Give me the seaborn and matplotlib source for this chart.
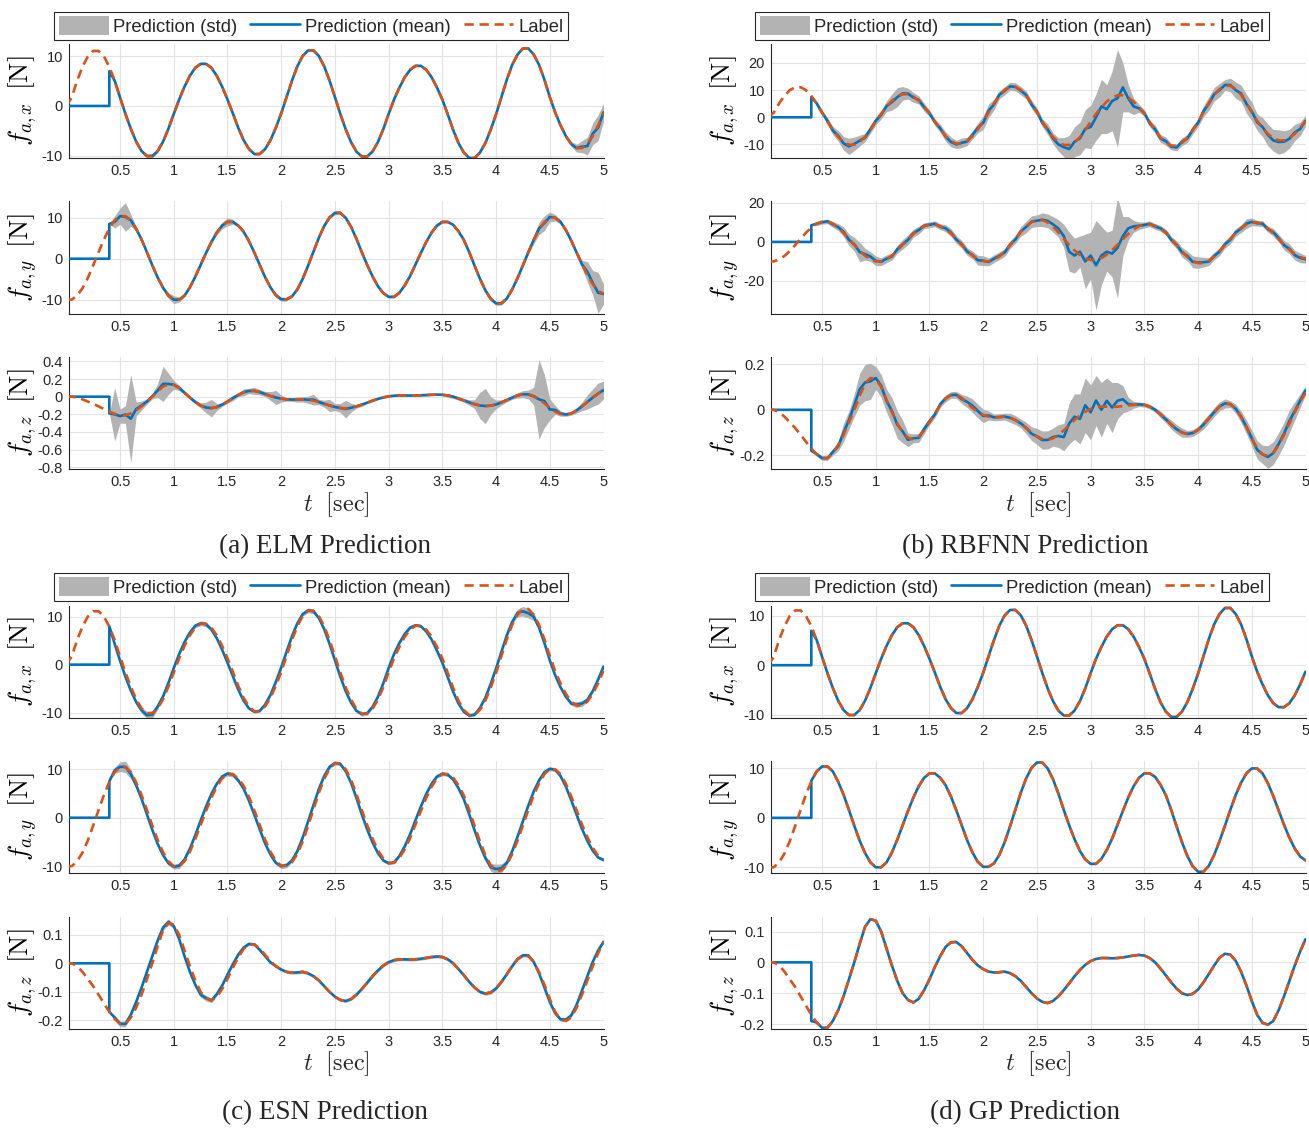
import numpy as np
import matplotlib
matplotlib.use('Agg')
import matplotlib.pyplot as plt
from matplotlib.lines import Line2D
from matplotlib.patches import Patch
from matplotlib.ticker import FuncFormatter
import seaborn as sns


# ---------------------------------------------------------------- data
# sample grid, 0.05 s; every array below has one value per sample,
# written 10 per row (0.00-0.45, 0.50-0.95, ... 4.50-4.95, 5.00)
T = np.round(np.arange(0, 5.0001, 0.05), 2)
T_SWITCH = 0.40  # prediction is 0 before this time

LABEL_X = [
    0.0, 1.7, 5.1, 7.9, 10.0, 11.1, 11.1, 10.0, 7.9, 5.1,
    1.7, -1.6, -4.6, -7.2, -9.1, -10.1, -10.1, -9.1, -7.2, -4.6,
    -1.6, 1.3, 3.9, 6.1, 7.7, 8.5, 8.5, 7.7, 6.1, 3.9,
    1.3, -1.5, -4.4, -6.9, -8.7, -9.7, -9.7, -8.7, -6.9, -4.4,
    -1.5, 1.8, 5.1, 8.0, 10.1, 11.2, 11.2, 10.1, 8.0, 5.1,
    1.8, -1.6, -4.7, -7.3, -9.2, -10.2, -10.2, -9.2, -7.3, -4.7,
    -1.6, 1.3, 3.7, 5.8, 7.3, 8.1, 8.1, 7.3, 5.8, 3.7,
    1.3, -1.7, -4.8, -7.5, -9.4, -10.5, -10.5, -9.4, -7.5, -4.8,
    -1.7, 1.8, 5.3, 8.3, 10.4, 11.6, 11.6, 10.4, 8.3, 5.3,
    1.8, -1.3, -3.9, -6.1, -7.7, -8.5, -8.5, -7.7, -6.1, -3.9,
    -1.3]
LABEL_Y = [
    -10.0, -10.0, -9.0, -7.2, -4.7, -1.6, 1.6, 4.7, 7.4, 9.4,
    10.4, 10.4, 9.4, 7.3, 4.7, 1.6, -1.6, -4.6, -7.1, -9.0,
    -10.0, -10.0, -9.0, -7.0, -4.4, -1.5, 1.4, 4.1, 6.4, 8.1,
    9.0, 9.0, 8.1, 6.6, 4.3, 1.5, -1.5, -4.5, -7.0, -8.9,
    -9.9, -9.9, -9.2, -7.5, -4.9, -1.7, 1.7, 5.1, 8.0, 10.1,
    11.2, 11.2, 10.0, 7.8, 4.9, 1.6, -1.5, -4.3, -6.7, -8.4,
    -9.3, -9.3, -8.3, -6.5, -4.2, -1.4, 1.4, 4.1, 6.4, 8.1,
    9.0, 9.0, 8.3, 6.7, 4.6, 1.6, -1.7, -4.9, -7.7, -9.8,
    -10.9, -10.9, -9.7, -7.5, -4.7, -1.6, 1.6, 4.6, 7.1, 9.0,
    10.0, 10.0, 9.0, 7.0, 4.4, 1.5, -1.4, -4.0, -6.2, -7.8,
    -8.6]
LABEL_Z = [
    0.000, 0.000, -0.010, -0.030, -0.055, -0.080, -0.110, -0.140, -0.170, -0.195,
    -0.212, -0.212, -0.190, -0.155, -0.110, -0.055, 0.000, 0.060, 0.115, 0.140,
    0.135, 0.100, 0.045, -0.010, -0.060, -0.100, -0.122, -0.130, -0.118, -0.090,
    -0.055, -0.015, 0.020, 0.050, 0.065, 0.066, 0.052, 0.030, 0.008, -0.010,
    -0.022, -0.030, -0.033, -0.032, -0.030, -0.035, -0.045, -0.060, -0.080, -0.100,
    -0.117, -0.128, -0.132, -0.125, -0.110, -0.090, -0.068, -0.045, -0.025, -0.008,
    0.004, 0.011, 0.014, 0.014, 0.013, 0.014, 0.016, 0.019, 0.022, 0.024,
    0.022, 0.014, 0.000, -0.020, -0.042, -0.065, -0.085, -0.100, -0.106, -0.102,
    -0.088, -0.065, -0.038, -0.010, 0.015, 0.028, 0.025, 0.005, -0.030, -0.075,
    -0.125, -0.170, -0.196, -0.202, -0.190, -0.155, -0.110, -0.060, -0.010, 0.035,
    0.075]

# ELM
ELM_JUMP = [7.0, 8.5, -0.19]
ELM_STD_X = [
    0, 0, 0, 0, 0, 0, 0, 0, 0, 0.3,
    0.2, 0.15, 0.15, 0.2, 0.3, 0.4, 0.4, 0.3, 0.2, 0.15,
    0.1, 0.1, 0.1, 0.1, 0.15, 0.2, 0.15, 0.1, 0.1, 0.1,
    0.1, 0.1, 0.1, 0.15, 0.2, 0.2, 0.15, 0.1, 0.1, 0.1,
    0.1, 0.1, 0.1, 0.1, 0.15, 0.2, 0.2, 0.15, 0.1, 0.1,
    0.1, 0.1, 0.1, 0.15, 0.2, 0.25, 0.2, 0.15, 0.1, 0.1,
    0.1, 0.1, 0.1, 0.1, 0.15, 0.2, 0.15, 0.1, 0.1, 0.1,
    0.1, 0.1, 0.1, 0.15, 0.2, 0.3, 0.3, 0.2, 0.1, 0.1,
    0.1, 0.1, 0.1, 0.1, 0.15, 0.2, 0.2, 0.15, 0.1, 0.1,
    0.1, 0.15, 0.2, 0.3, 0.5, 0.8, 1.2, 1.8, 2.2, 2.6,
    1.8]
ELM_DEV_X = [
    0, 0, 0, 0, 0, 0, 0, 0, 0, 0,
    0, 0, 0, 0, 0, 0, 0, 0, 0, 0,
    0, 0, 0, 0, 0, 0, 0, 0, 0, 0,
    0, 0, 0, 0, 0, 0, 0, 0, 0, 0,
    0, 0, 0, 0, 0, 0, 0, 0, 0, 0,
    0, 0, 0, 0, 0, 0, 0, 0, 0, 0,
    0, 0, 0, 0, 0, 0, 0, 0, 0, 0,
    0, 0, 0, 0, 0, 0, 0, 0, 0, 0,
    0, 0, 0, 0, 0, 0, 0, 0, 0, 0,
    0, 0, 0, 0, 0, 0, 0.3, -0.4, 0.5, -0.5,
    0]
ELM_STD_Y = [
    0, 0, 0, 0, 0, 0, 0, 0, 0, 1.5,
    2.0, 3.5, 1.5, 0.5, 0.3, 0.2, 0.3, 0.4, 0.5, 0.7,
    1.0, 0.6, 0.3, 0.2, 0.2, 0.3, 0.3, 0.4, 0.6, 0.8,
    1.0, 0.6, 0.3, 0.2, 0.2, 0.2, 0.2, 0.3, 0.4, 0.5,
    0.5, 0.4, 0.3, 0.2, 0.2, 0.2, 0.2, 0.3, 0.3, 0.4,
    0.5, 0.4, 0.3, 0.2, 0.2, 0.2, 0.2, 0.2, 0.3, 0.3,
    0.3, 0.3, 0.2, 0.2, 0.2, 0.2, 0.2, 0.2, 0.3, 0.3,
    0.3, 0.3, 0.2, 0.2, 0.2, 0.2, 0.2, 0.3, 0.4, 0.5,
    0.5, 0.4, 0.3, 0.2, 0.3, 0.4, 0.6, 1.0, 1.5, 1.8,
    1.2, 0.8, 0.5, 0.4, 0.4, 0.5, 1.0, 2.5, 3.0, 5.0,
    2.5]
ELM_DEV_Y = [
    0, 0, 0, 0, 0, 0, 0, 0, 0, -0.4,
    0, -0.2, 0, 0, 0, 0, 0, 0, 0, 0,
    0, 0, 0, 0, 0, 0, 0, 0, 0, 0,
    0, 0, 0, 0, 0, 0, 0, 0, 0, 0,
    0, 0, 0, 0, 0, 0, 0, 0, 0, 0,
    0, 0, 0, 0, 0, 0, 0, 0, 0, 0,
    0, 0, 0, 0, 0, 0, 0, 0, 0, 0,
    0, 0, 0, 0, 0, 0, 0, 0, 0, 0,
    0, 0, 0, 0, 0, 0, 0, 0, 0.3, -0.3,
    0.2, 0, 0, 0, 0, 0, 0, 0.8, 0.3, -0.5,
    0]
ELM_STD_Z = [
    0, 0, 0, 0, 0, 0, 0, 0, 0, 0.30,
    0.08, 0.10, 0.50, 0.08, 0.05, 0.03, 0.03, 0.08, 0.20, 0.12,
    0.05, 0.03, 0.02, 0.02, 0.02, 0.03, 0.06, 0.10, 0.04, 0.02,
    0.02, 0.03, 0.02, 0.04, 0.03, 0.04, 0.03, 0.03, 0.05, 0.08,
    0.04, 0.02, 0.02, 0.03, 0.03, 0.04, 0.06, 0.03, 0.04, 0.07,
    0.04, 0.05, 0.10, 0.05, 0.02, 0.02, 0.01, 0.01, 0.01, 0.01,
    0.01, 0.01, 0.01, 0.01, 0.01, 0.01, 0.01, 0.01, 0.01, 0.01,
    0.01, 0.02, 0.02, 0.02, 0.02, 0.03, 0.05, 0.15, 0.20, 0.10,
    0.05, 0.03, 0.02, 0.02, 0.03, 0.04, 0.05, 0.10, 0.45, 0.30,
    0.12, 0.05, 0.03, 0.02, 0.02, 0.03, 0.05, 0.08, 0.10, 0.12,
    0.10]
ELM_DEV_Z = [
    0, 0, 0, 0, 0, 0, 0, 0, 0, -0.005,
    -0.008, 0.01, -0.06, 0.015, 0.01, 0, 0.005, 0.01, 0.03, 0.005,
    0, 0, 0, 0, 0, 0, 0, 0, 0, 0,
    0, 0, 0, 0, 0, 0, 0, 0, 0, 0,
    0, 0, 0, 0, 0, 0, 0.012, 0, 0, 0,
    0, 0, -0.008, 0, 0, 0, 0, 0, 0, 0,
    0, 0, 0, 0, 0, 0, 0, 0, 0, 0,
    0, 0, 0, 0, 0, 0, 0, 0, 0, 0,
    0, 0, 0, 0, 0, 0, 0, 0, 0, 0.025,
    -0.02, 0.02, 0.005, 0, 0, 0, 0, 0, 0, 0,
    0]

# RBFNN
RBF_JUMP = [7.5, 8.5, -0.18]
RBF_STD_X = [
    0, 0, 0, 0, 0, 0, 0, 0, 0, 0.8,
    1.0, 1.2, 1.5, 2.0, 2.5, 3.0, 2.5, 2.0, 1.5, 1.5,
    1.5, 1.5, 2.0, 3.0, 3.5, 2.5, 2.0, 1.8, 1.5, 1.5,
    1.2, 1.2, 1.5, 1.8, 1.8, 1.5, 1.8, 1.5, 1.5, 1.8,
    2.5, 2.5, 2.0, 1.5, 1.5, 1.5, 1.5, 1.5, 1.5, 1.5,
    1.5, 1.5, 2.0, 2.0, 2.5, 3.5, 5.0, 5.5, 6.0, 7.0,
    8.0, 8.5, 10.0, 9.0, 11.0, 18.0, 9.0, 5.0, 3.0, 1.5,
    1.2, 1.2, 1.5, 1.5, 1.5, 1.2, 1.2, 1.5, 1.5, 1.5,
    1.5, 2.0, 2.5, 2.5, 2.5, 2.0, 2.5, 3.0, 3.0, 3.5,
    3.5, 3.0, 3.5, 4.0, 4.0, 4.5, 4.0, 3.5, 3.0, 2.5,
    2.0]
RBF_DEV_X = [
    0, 0, 0, 0, 0, 0, 0, 0, 0, 0,
    0, 0.3, -0.3, 0.4, -0.5, -0.6, 0.3, 0.5, -0.3, 0.2,
    0.3, -0.4, 0.2, -0.5, -0.3, 0.3, 0.2, -0.4, 0.3, -0.2,
    0.2, -0.3, 0.3, -0.2, -0.4, -0.3, 0.3, -0.2, 0.4, 0.5,
    -0.5, 0.6, -0.4, 0.3, -0.3, 0.2, 0.0, -0.3, 0.2, -0.4,
    0.3, -0.4, 0.3, -0.5, -0.8, -0.8, -1.5, 0.2, -0.5, 0.5,
    -2.0, -1.3, 0.3, -2.8, -1.3, -1.1, 2.9, -0.3, -1.8, -0.4,
    0.3, -0.6, 0.4, -0.3, 0.6, -0.3, -0.6, 0.4, -0.3, 0.2,
    -0.3, 0.4, -0.3, 0.2, -0.4, 0.3, 0.3, -0.4, 0.5, -0.3,
    0.4, -0.5, 0.3, -0.4, -0.8, -0.6, -0.5, -0.2, 0.5, -0.4,
    0.0]
RBF_STD_Y = [
    0, 0, 0, 0, 0, 0, 0, 0, 0, 1.0,
    1.0, 1.2, 1.5, 1.8, 2.5, 3.0, 3.5, 5.0, 3.0, 2.5,
    2.5, 2.0, 2.0, 1.8, 2.0, 2.5, 2.5, 2.0, 2.0, 1.5,
    1.5, 1.5, 1.5, 1.8, 2.0, 2.0, 2.0, 2.0, 2.0, 2.5,
    2.5, 2.0, 2.0, 2.0, 2.0, 2.0, 2.0, 2.5, 3.0, 3.0,
    3.0, 3.5, 3.5, 4.0, 4.5, 6.0, 10.0, 9.0, 8.0, 14.0,
    12.0, 23.0, 15.0, 10.0, 12.0, 26.0, 10.0, 6.0, 3.0, 2.0,
    1.5, 1.5, 1.5, 1.5, 1.5, 1.8, 2.0, 2.5, 2.5, 3.0,
    3.0, 2.5, 2.0, 2.0, 2.0, 2.0, 2.0, 2.0, 2.0, 2.5,
    2.0, 1.5, 1.5, 1.5, 2.0, 2.0, 2.5, 2.5, 2.5, 2.5,
    2.0]
RBF_DEV_Y = [
    0, 0, 0, 0, 0, 0, 0, 0, 0, 0,
    -0.3, 0.2, -0.4, 0.3, 0.5, -0.5, 0.4, -0.6, 0.8, 1.5,
    0.3, -0.2, 0.4, -0.5, 0.6, 0.3, -0.3, 0.4, -0.3, 0.2,
    -0.2, 0.3, -0.3, 0.4, 0.5, -0.3, 0.3, -0.4, 0.3, -0.5,
    0.3, -0.4, 0.6, 0.4, -0.5, 0.3, -0.4, 0.3, -0.3, 0.3,
    -0.3, 0.2, 0.8, 1.2, 2.0, 1.4, -3.5, -2.7, 1.7, -1.6,
    2.3, -2.7, 1.3, 1.5, -1.8, -1.6, 1.6, 2.9, 1.6, 0.2,
    -0.3, 0.3, -0.4, 0.3, 0.4, -0.5, 0.3, -0.4, 0.5, -0.4,
    0.3, 0.5, -0.4, 0.3, -0.3, 0.4, -0.5, 0.3, -0.3, 0.4,
    0.3, -0.4, 0.4, -0.5, 0.6, 0.4, -0.3, 0.5, -0.6, -0.4,
    -0.3]
RBF_STD_Z = [
    0, 0, 0, 0, 0, 0, 0, 0, 0, 0.01,
    0.01, 0.01, 0.015, 0.02, 0.04, 0.04, 0.05, 0.07, 0.08, 0.08,
    0.05, 0.05, 0.05, 0.06, 0.06, 0.05, 0.03, 0.02, 0.02, 0.02,
    0.015, 0.015, 0.015, 0.015, 0.015, 0.015, 0.02, 0.025, 0.03, 0.03,
    0.03, 0.02, 0.015, 0.015, 0.015, 0.02, 0.02, 0.02, 0.025, 0.03,
    0.035, 0.04, 0.04, 0.04, 0.05, 0.06, 0.09, 0.10, 0.11, 0.12,
    0.12, 0.11, 0.12, 0.10, 0.11, 0.08, 0.06, 0.03, 0.015, 0.01,
    0.01, 0.01, 0.01, 0.015, 0.015, 0.02, 0.02, 0.02, 0.015, 0.015,
    0.015, 0.02, 0.02, 0.02, 0.02, 0.02, 0.015, 0.02, 0.025, 0.03,
    0.035, 0.04, 0.04, 0.05, 0.05, 0.05, 0.05, 0.05, 0.04, 0.03,
    0.02]
RBF_DEV_Z = [
    0, 0, 0, 0, 0, 0, 0, 0, 0, 0,
    0, 0, 0.005, -0.005, 0.01, 0.01, 0.02, 0.03, 0.005, -0.015,
    0.005, 0.005, -0.005, 0.005, -0.005, 0.005, -0.01, 0.005, -0.005, 0.005,
    0.005, -0.005, 0.005, 0, 0, 0, -0.005, 0.005, 0.01, 0.005,
    -0.005, 0.005, 0, 0, 0, 0, 0, 0, 0, -0.005,
    0, -0.005, 0, 0.005, -0.005, -0.03, 0.008, 0.015, -0.015, 0.028,
    -0.015, 0.03, -0.014, 0.026, -0.003, 0.026, 0.03, 0.006, 0, 0,
    0, 0, 0, 0, 0, 0, 0, 0, 0, 0,
    0, 0, 0, 0, 0, 0, 0, 0, 0, 0,
    0, -0.005, 0, -0.005, 0, 0.005, 0.005, 0.01, 0.005, 0.005,
    0.01]

# ESN
ESN_JUMP = [8.0, 7.5, -0.17]
ESN_STD_X = [
    0, 0, 0, 0, 0, 0, 0, 0, 0, 0.4,
    0.4, 0.4, 0.4, 0.5, 0.6, 0.8, 0.8, 0.6, 0.4, 0.3,
    0.3, 0.3, 0.3, 0.3, 0.4, 0.5, 0.5, 0.4, 0.3, 0.3,
    0.3, 0.3, 0.3, 0.3, 0.3, 0.3, 0.3, 0.3, 0.3, 0.3,
    0.3, 0.3, 0.3, 0.3, 0.4, 0.5, 0.5, 0.4, 0.3, 0.3,
    0.3, 0.3, 0.3, 0.3, 0.3, 0.4, 0.4, 0.3, 0.3, 0.3,
    0.3, 0.3, 0.3, 0.3, 0.3, 0.3, 0.3, 0.3, 0.3, 0.3,
    0.3, 0.3, 0.3, 0.3, 0.3, 0.3, 0.3, 0.3, 0.3, 0.3,
    0.3, 0.3, 0.4, 0.5, 0.8, 1.0, 1.0, 0.8, 0.5, 0.3,
    0.3, 0.3, 0.3, 0.3, 0.4, 0.6, 0.6, 0.4, 0.3, 0.3,
    0.3]
ESN_DEV_X = [
    0, 0, 0, 0, 0, 0, 0, 0, 0, -0.8,
    -0.9, -0.9, -0.8, -0.6, -0.4, -0.4, -0.3, 0.4, 0.6, 0.8,
    0.9, 0.9, 0.8, 0.6, 0.4, 0.1, -0.1, -0.4, -0.6, -0.8,
    -0.9, -0.9, -0.8, -0.6, -0.4, -0.1, 0.1, 0.4, 0.6, 0.8,
    0.9, 0.9, 0.8, 0.6, 0.4, 0.1, -0.1, -0.4, -0.6, -0.8,
    -0.9, -0.9, -0.8, -0.6, -0.4, -0.1, 0.1, 0.4, 0.6, 0.8,
    0.9, 0.9, 0.8, 0.6, 0.4, 0.1, -0.1, -0.4, -0.6, -0.8,
    -0.9, -0.9, -0.8, -0.6, -0.4, -0.1, 0.1, 0.4, 0.6, 0.8,
    0.9, 0.9, 0.8, 0.6, 0.4, -0.5, -0.9, -0.4, -0.6, -0.8,
    -0.9, -0.9, -0.8, -0.6, -0.4, 0.2, 0.4, 0.4, 0.6, 0.8,
    0.9]
ESN_STD_Y = [
    0, 0, 0, 0, 0, 0, 0, 0, 0, 0.6,
    1.0, 1.2, 1.0, 0.6, 0.4, 0.3, 0.3, 0.3, 0.3, 0.4,
    0.5, 0.6, 0.4, 0.3, 0.3, 0.3, 0.3, 0.3, 0.3, 0.4,
    0.5, 0.5, 0.4, 0.3, 0.3, 0.3, 0.3, 0.3, 0.3, 0.4,
    0.5, 0.5, 0.4, 0.3, 0.3, 0.3, 0.3, 0.3, 0.3, 0.4,
    0.4, 0.4, 0.3, 0.3, 0.3, 0.3, 0.3, 0.3, 0.3, 0.3,
    0.3, 0.3, 0.3, 0.3, 0.3, 0.3, 0.3, 0.3, 0.3, 0.3,
    0.4, 0.4, 0.3, 0.3, 0.3, 0.3, 0.3, 0.4, 0.6, 0.8,
    1.0, 0.9, 0.6, 0.4, 0.3, 0.3, 0.3, 0.3, 0.3, 0.4,
    0.4, 0.4, 0.3, 0.3, 0.3, 0.3, 0.3, 0.3, 0.3, 0.3,
    0.3]
ESN_DEV_Y = [
    0, 0, 0, 0, 0, 0, 0, 0, 0, 0.4,
    0.1, 0.1, -0.4, -0.6, -0.8, -0.9, -0.9, -0.8, -0.6, -0.4,
    -0.1, 0.1, 0.4, 0.6, 0.8, 0.9, 0.9, 0.8, 0.6, 0.4,
    0.1, -0.1, -0.4, -0.6, -0.8, -0.9, -0.9, -0.8, -0.6, -0.4,
    -0.1, 0.1, 0.4, 0.6, 0.8, 0.9, 0.9, 0.8, 0.6, 0.4,
    0.1, -0.1, -0.4, -0.6, -0.8, -0.9, -0.9, -0.8, -0.6, -0.4,
    -0.1, 0.1, 0.4, 0.6, 0.8, 0.9, 0.9, 0.8, 0.6, 0.4,
    0.1, -0.1, -0.4, -0.6, -0.8, -0.9, -0.9, -0.8, -0.6, -0.4,
    0.3, 0.5, 0.4, 0.6, 0.8, 0.9, 0.9, 0.8, 0.6, 0.4,
    0.1, -0.1, -0.4, -0.6, -0.8, -0.9, -0.9, -0.8, -0.6, -0.4,
    -0.1]
ESN_STD_Z = [
    0, 0, 0, 0, 0, 0, 0, 0, 0, 0.008,
    0.010, 0.010, 0.008, 0.006, 0.006, 0.006, 0.006, 0.008, 0.010, 0.010,
    0.008, 0.006, 0.006, 0.006, 0.006, 0.008, 0.010, 0.008, 0.006, 0.005,
    0.005, 0.005, 0.005, 0.005, 0.005, 0.005, 0.005, 0.005, 0.005, 0.005,
    0.005, 0.005, 0.005, 0.005, 0.005, 0.005, 0.005, 0.005, 0.005, 0.005,
    0.005, 0.005, 0.005, 0.005, 0.005, 0.005, 0.005, 0.005, 0.005, 0.005,
    0.005, 0.005, 0.005, 0.005, 0.005, 0.005, 0.005, 0.005, 0.005, 0.005,
    0.005, 0.005, 0.005, 0.005, 0.005, 0.005, 0.005, 0.005, 0.006, 0.006,
    0.005, 0.005, 0.005, 0.005, 0.005, 0.006, 0.006, 0.005, 0.005, 0.005,
    0.005, 0.006, 0.007, 0.007, 0.007, 0.006, 0.005, 0.005, 0.005, 0.005,
    0.005]
ESN_DEV_Z = [
    0, 0, 0, 0, 0, 0, 0, 0, 0, 0.005,
    0.0, 0.0, 0.01, 0.02, 0.025, 0.025, 0.025, 0.02, 0.01, 0.005,
    -0.005, -0.015, -0.02, -0.02, -0.015, -0.01, 0.0, 0.0, 0.01, 0.012,
    0.015, 0.012, 0.01, 0.005, 0.003, 0.0, -0.005, -0.005, -0.005, 0.0,
    0, 0, 0, 0, 0, 0, 0, 0, 0, 0,
    0, 0, 0, 0, 0, 0, 0, 0, 0, 0,
    0, 0, 0, 0, 0, 0, 0, 0, 0, 0,
    0, 0, 0, 0, 0, 0, 0, 0, 0, 0,
    0, 0, 0, 0, 0, 0, 0.003, 0, -0.005, -0.01,
    -0.01, -0.005, 0.0, 0.005, 0.008, 0.01, 0.015, 0.015, 0.015, 0.01,
    0.0]

# GP: the spread is too small to see and the mean sits on the label
GP_JUMP = [7.0, 7.5, -0.19]
GP_STD = np.zeros(len(T))
GP_DEV = np.zeros(len(T))

CAPTIONS = ["(a) ELM Prediction", "(b) RBFNN Prediction",
            "(c) ESN Prediction", "(d) GP Prediction"]
YLABELS = [r'$f_{a,x}\ \,[\mathrm{N}]$', r'$f_{a,y}\ \,[\mathrm{N}]$',
           r'$f_{a,z}\ \,[\mathrm{N}]$']
YLIMS = [
    [(-10.5, 12.5), (-13.5, 14.1), (-0.82, 0.45)],
    [(-15, 27), (-37, 21), (-0.26, 0.232)],
    [(-11.1, 12.2), (-11.4, 11.7), (-0.23, 0.162)],
    [(-10.7, 12.0), (-11.15, 11.5), (-0.216, 0.147)],
]
YTICKS = [
    [[-10, 0, 10], [-10, 0, 10], [-0.8, -0.6, -0.4, -0.2, 0, 0.2, 0.4]],
    [[-10, 0, 10, 20], [-20, 0, 20], [-0.2, 0, 0.2]],
    [[-10, 0, 10], [-10, 0, 10], [-0.2, -0.1, 0, 0.1]],
    [[-10, 0, 10], [-10, 0, 10], [-0.2, -0.1, 0, 0.1]],
]
XTICKS = [0.5, 1, 1.5, 2, 2.5, 3, 3.5, 4, 4.5, 5]

MODELS = [
    (ELM_JUMP, [ELM_STD_X, ELM_STD_Y, ELM_STD_Z], [ELM_DEV_X, ELM_DEV_Y, ELM_DEV_Z]),
    (RBF_JUMP, [RBF_STD_X, RBF_STD_Y, RBF_STD_Z], [RBF_DEV_X, RBF_DEV_Y, RBF_DEV_Z]),
    (ESN_JUMP, [ESN_STD_X, ESN_STD_Y, ESN_STD_Z], [ESN_DEV_X, ESN_DEV_Y, ESN_DEV_Z]),
    (GP_JUMP, [GP_STD, GP_STD, GP_STD], [GP_DEV, GP_DEV, GP_DEV]),
]
LABELS = [LABEL_X, LABEL_Y, LABEL_Z]

for arr in LABELS + [a for m in MODELS for a in m[1] + m[2]]:
    assert len(arr) == len(T), len(arr)

# ---------------------------------------------------------------- style
BLUE = '#0072BD'
ORANGE = '#D95319'
GRAY = '#b3b3b3'
DARK = '#262626'

sns.set_theme(style='white')
plt.rcParams['font.family'] = ['Liberation Sans', 'DejaVu Sans']
plt.rcParams['mathtext.fontset'] = 'cm'
plt.rcParams['axes.unicode_minus'] = False

W, H, DPI = 1309, 1128, 100
fig = plt.figure(figsize=(W / DPI, H / DPI), dpi=DPI)

COL_LEFT = [68.5, 770.5]
AX_W = 535
ROWS = [[(44, 158), (201, 314), (357, 469)],
        [(606, 718), (761, 873), (917, 1029)]]
LEGEND_Y = [26, 587]
LEGEND_X = [311, 1012]
XLABEL_Y = [505, 1064]
CAPTION_Y = [547, 1113]
CAPTION_X = [325, 1025]


def px_rect(left, top, width, height):
    return [left / W, 1 - (top + height) / H, width / W, height / H]


after = T > T_SWITCH + 1e-6

for p in range(4):
    col, half = p % 2, p // 2
    jumps, stds, devs = MODELS[p]
    for k in range(3):
        top, bottom = ROWS[half][k]
        ax = fig.add_axes(px_rect(COL_LEFT[col], top, AX_W, bottom - top))

        label = np.array(LABELS[k], dtype=float)
        mean = label + np.array(devs[k], dtype=float)
        std = np.array(stds[k], dtype=float)

        # prediction is zero until the switch, then jumps onto the estimate
        t_line = np.concatenate([T[~after], [T_SWITCH], T[after]])
        m_line = np.concatenate([np.zeros((~after).sum()), [jumps[k]], mean[after]])
        t_band = np.concatenate([[T_SWITCH], T[after]])
        c_band = np.concatenate([[jumps[k]], mean[after]])
        s_band = np.concatenate([[0.0], std[after]])

        ax.fill_between(t_band, c_band - s_band, c_band + s_band,
                        color=GRAY, lw=0, zorder=2)
        sns.lineplot(x=t_line, y=m_line, ax=ax, color=BLUE, lw=1.9,
                     estimator=None, sort=False, zorder=3)
        sns.lineplot(x=T, y=label, ax=ax, color=ORANGE, lw=1.9,
                     linestyle=(0, (3.5, 2.2)), estimator=None, sort=False, zorder=4)

        ax.set_xlim(0.02, 5)
        ax.set_ylim(*YLIMS[p][k])
        ax.set_xticks(XTICKS)
        ax.set_yticks(YTICKS[p][k])
        fmt = FuncFormatter(lambda v, pos: f'{v:g}')
        ax.xaxis.set_major_formatter(fmt)
        ax.yaxis.set_major_formatter(fmt)
        ax.grid(True, color='#e3e3e3', lw=0.8)
        ax.set_axisbelow(True)
        for side in ['top', 'right']:
            ax.spines[side].set_visible(False)
        for side in ['left', 'bottom']:
            ax.spines[side].set_color(DARK)
            ax.spines[side].set_linewidth(0.8)
        ax.tick_params(direction='in', length=3, width=0.6, colors=DARK,
                       labelsize=10.5, pad=4)
        ax.set_xlabel('')
        ax.set_ylabel(YLABELS[k], fontsize=19.5, color='black')
        ax.yaxis.set_label_coords(-0.055, 0.5)

    fig.text((COL_LEFT[col] + AX_W / 2) / W, 1 - XLABEL_Y[half] / H,
             r'$t\ \ [\mathrm{sec}]$', fontsize=17.5, ha='center', va='center')
    fig.text(CAPTION_X[col] / W, 1 - CAPTION_Y[half] / H, CAPTIONS[p],
             fontsize=19.5, family=['Liberation Serif', 'DejaVu Serif'],
             ha='center', va='center')

    handles = [Patch(facecolor=GRAY, edgecolor='none'),
               Line2D([], [], color=BLUE, lw=1.9),
               Line2D([], [], color=ORANGE, lw=1.9, linestyle=(0, (3.5, 2.2)))]
    leg = fig.legend(handles, ['Prediction (std)', 'Prediction (mean)', 'Label'],
                     loc='center', bbox_to_anchor=(LEGEND_X[col] / W, 1 - LEGEND_Y[half] / H),
                     ncol=3, fontsize=13.3, frameon=True, fancybox=False,
                     handlelength=2.7, handleheight=1.2, handletextpad=0.25,
                     columnspacing=0.7, borderpad=0.25)
    leg.get_frame().set_edgecolor(DARK)
    leg.get_frame().set_linewidth(0.8)
    leg.get_frame().set_alpha(1)

fig.savefig('out.png', dpi=DPI)
